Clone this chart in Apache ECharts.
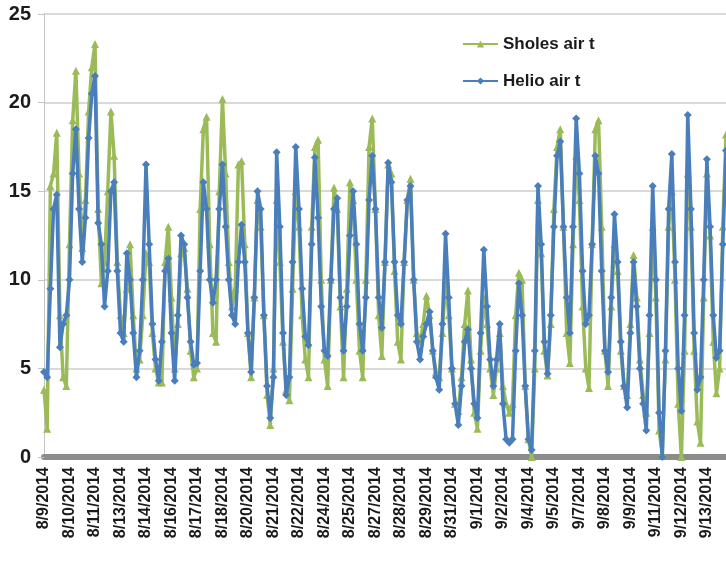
<!DOCTYPE html>
<html>
<head>
<meta charset="utf-8">
<script src="https://cdn.jsdelivr.net/npm/echarts@6/dist/echarts.min.js"></script>
<style>
  html, body { margin: 0; padding: 0; background: #fff; }
  #chart { width: 726px; height: 563px; }
</style>
</head>
<body>
<div id="chart"></div>
<script>
// Date labels shown along the x axis, one every 8 readings (about 4 h per reading)
const tickLabels = [
  '8/9/2014', '8/10/2014', '8/11/2014', '8/13/2014', '8/14/2014', '8/16/2014',
  '8/17/2014', '8/18/2014', '8/20/2014', '8/21/2014', '8/22/2014', '8/24/2014',
  '8/25/2014', '8/27/2014', '8/28/2014', '8/29/2014', '8/31/2014', '9/1/2014',
  '9/2/2014', '9/4/2014', '9/5/2014', '9/7/2014', '9/8/2014', '9/9/2014',
  '9/11/2014', '9/12/2014', '9/13/2014'
];
const readingsPerLabel = 8;

// Air temperature (°C), Sholes station
const sholesAirT = [
  3.8, 1.6, 15.3, 16.0, 18.3, 8.0, 4.5, 4.0, 12.0, 19.0,
  21.8, 16.0, 11.8, 14.5, 19.5, 22.0, 23.3, 14.0, 9.8, 11.0,
  15.0, 19.5, 17.0, 11.0, 8.0, 7.0, 9.5, 12.0, 8.0, 5.0,
  5.5, 8.0, 11.5, 11.0, 7.0, 5.0, 4.2, 4.2, 11.0, 13.0,
  9.0, 5.0, 7.5, 11.5, 11.8, 9.5, 6.0, 4.5, 5.0, 14.0,
  18.5, 19.2, 12.0, 7.0, 6.5, 15.0, 20.2, 16.0, 11.0, 8.5,
  9.5, 16.5, 16.7, 12.0, 7.0, 4.5, 9.0, 14.5, 13.0, 8.0,
  3.5, 1.8, 5.0, 14.5, 11.0, 6.5, 3.8, 3.2, 9.5, 15.0,
  13.0, 8.0, 5.5, 4.5, 13.0, 17.5, 17.9, 10.0, 5.5, 4.0,
  10.0, 15.2, 14.0, 8.5, 4.5, 9.5, 15.5, 14.5, 10.0, 6.0,
  4.5, 10.0, 17.5, 19.1, 14.0, 8.0, 5.7, 11.0, 16.5, 16.0,
  10.5, 6.5, 5.5, 11.0, 14.5, 15.7, 10.0, 7.0, 6.5, 7.5,
  9.1, 8.0, 6.0, 4.8, 4.5, 7.0, 10.0, 8.0, 5.0, 3.0,
  2.6, 4.5, 7.5, 9.4, 5.5, 2.5, 1.6, 6.0, 9.0, 7.5,
  5.0, 3.5, 5.0, 7.0, 4.0, 3.0, 2.5, 3.0, 8.0, 10.4,
  10.0, 4.0, 1.0, 0.0, 5.0, 14.5, 11.5, 6.0, 4.6, 7.5,
  14.0, 17.5, 18.5, 13.0, 7.0, 5.3, 12.0, 17.0, 14.5, 8.5,
  5.0, 3.9, 12.0, 18.5, 19.0, 13.0, 6.0, 4.0, 8.5, 12.0,
  10.5, 6.0, 4.0, 3.5, 7.5, 11.4, 9.0, 5.5, 3.5, 2.5,
  7.0, 13.0, 9.0, 1.5, 0.2, 5.5, 13.0, 15.0, 10.0, 3.0,
  0.0, 6.0, 16.0, 13.0, 6.0, 2.0, 0.8, 9.0, 16.0, 12.5,
  6.5, 3.6, 5.0, 13.0, 18.2
];

// Air temperature (°C), Helio station
const helioAirT = [
  4.8, 4.5, 9.5, 14.0, 14.8, 6.2, 7.5, 8.0, 10.0, 16.0,
  18.5, 14.0, 11.0, 13.5, 18.0, 20.5, 21.5, 13.2, 12.0, 8.5,
  10.5, 15.0, 15.5, 10.5, 7.0, 6.5, 11.5, 10.0, 7.0, 4.5,
  6.0, 10.0, 16.5, 12.0, 7.5, 5.5, 4.3, 6.5, 10.5, 11.2,
  7.0, 4.3, 8.0, 12.5, 12.0, 9.0, 6.5, 5.2, 5.3, 10.5,
  15.5, 14.0, 10.0, 8.7, 10.0, 14.0, 16.5, 13.0, 10.0, 8.0,
  7.5, 11.0, 13.1, 11.0, 7.0, 4.8, 9.0, 15.0, 14.0, 8.0,
  4.0, 2.2, 4.5, 17.2, 13.0, 7.0, 3.5, 4.5, 11.0, 17.5,
  14.0, 9.5, 6.8, 6.3, 12.0, 16.9, 13.5, 8.5, 6.0, 5.7,
  10.0, 14.0, 14.6, 9.0, 6.0, 8.5, 12.5, 15.0, 12.0, 7.5,
  6.0, 9.0, 14.5, 17.0, 14.0, 9.0, 7.3, 11.0, 16.6, 15.5,
  11.0, 8.0, 7.5, 11.0, 14.5, 15.3, 10.0, 6.5, 5.5, 6.8,
  7.5, 8.2, 6.0, 4.5, 3.8, 7.5, 12.6, 9.0, 5.0, 3.0,
  1.8, 4.0, 6.5, 7.2, 5.0, 3.0, 2.2, 7.0, 11.7, 8.5,
  5.5, 4.0, 5.5, 7.5, 3.0, 1.0, 0.8, 1.0, 6.0, 9.8,
  8.0, 4.0, 1.0, 0.4, 6.0, 15.3, 12.0, 6.5, 4.7, 8.0,
  13.0, 17.0, 17.8, 13.0, 9.0, 7.0, 13.0, 19.1, 16.0, 10.5,
  7.5, 8.0, 12.0, 17.0, 16.0, 10.5, 6.0, 4.8, 9.0, 13.7,
  11.0, 6.5, 4.0, 2.8, 7.0, 11.0, 8.5, 5.0, 3.0, 1.5,
  8.0, 15.3, 10.0, 2.5, 0.0, 6.0, 14.0, 17.1, 11.0, 5.0,
  2.6, 8.0, 19.3, 14.0, 7.0, 3.8, 4.5, 10.0, 16.8, 13.0,
  8.0, 5.6, 6.0, 12.0, 17.3
];

// One category per reading; only every 8th carries a date label
const categories = sholesAirT.map((_, i) =>
  i % readingsPerLabel === 0 ? (tickLabels[i / readingsPerLabel] || '') : ''
);

const FONT = '"Liberation Sans", Arial, sans-serif';
const chart = echarts.init(document.getElementById('chart'), null, { renderer: 'canvas' });

chart.setOption({
  animation: false,
  backgroundColor: '#ffffff',
  grid: { left: 44, right: 0, top: 14, bottom: 106, containLabel: false },
  legend: {
    orient: 'vertical',
    left: 457,
    top: 29,
    itemWidth: 35,
    itemHeight: 9,
    itemGap: 17,
    textStyle: { fontFamily: FONT, fontWeight: 'bold', fontSize: 17, color: '#1a1a1a', lineHeight: 20 },
    data: ['Sholes air t', 'Helio air t']
  },
  xAxis: {
    type: 'category',
    data: categories,
    boundaryGap: false,
    offset: 3,
    axisLine: { show: true, lineStyle: { color: '#8c8c8c', width: 6 } },
    axisTick: { show: false },
    axisLabel: {
      interval: readingsPerLabel - 1,
      rotate: 90,
      margin: 7,
      fontFamily: FONT,
      fontWeight: 'bold',
      fontSize: 16,
      color: '#1a1a1a'
    },
    splitLine: { show: false }
  },
  yAxis: {
    type: 'value',
    min: 0,
    max: 25,
    interval: 5,
    axisLine: { show: true, lineStyle: { color: '#c4c4c4', width: 1 } },
    axisTick: { show: true, length: 6, lineStyle: { color: '#c4c4c4' } },
    axisLabel: {
      margin: 13,
      fontFamily: FONT,
      fontWeight: 'bold',
      fontSize: 20,
      color: '#1a1a1a'
    },
    splitLine: { show: true, lineStyle: { color: '#cccccc', width: 1.5 } }
  },
  series: [
    {
      name: 'Sholes air t',
      type: 'line',
      data: sholesAirT,
      symbol: 'triangle',
      symbolSize: 8,
      showAllSymbol: true,
      lineStyle: { color: '#9bbb59', width: 3.5 },
      itemStyle: { color: '#9bbb59', borderWidth: 0 },
      z: 2
    },
    {
      name: 'Helio air t',
      type: 'line',
      data: helioAirT,
      symbol: 'diamond',
      symbolSize: 8,
      showAllSymbol: true,
      lineStyle: { color: '#4a7ebb', width: 3.5 },
      itemStyle: { color: '#4a7ebb', borderWidth: 0 },
      z: 3
    }
  ]
});
</script>
</body>
</html>
